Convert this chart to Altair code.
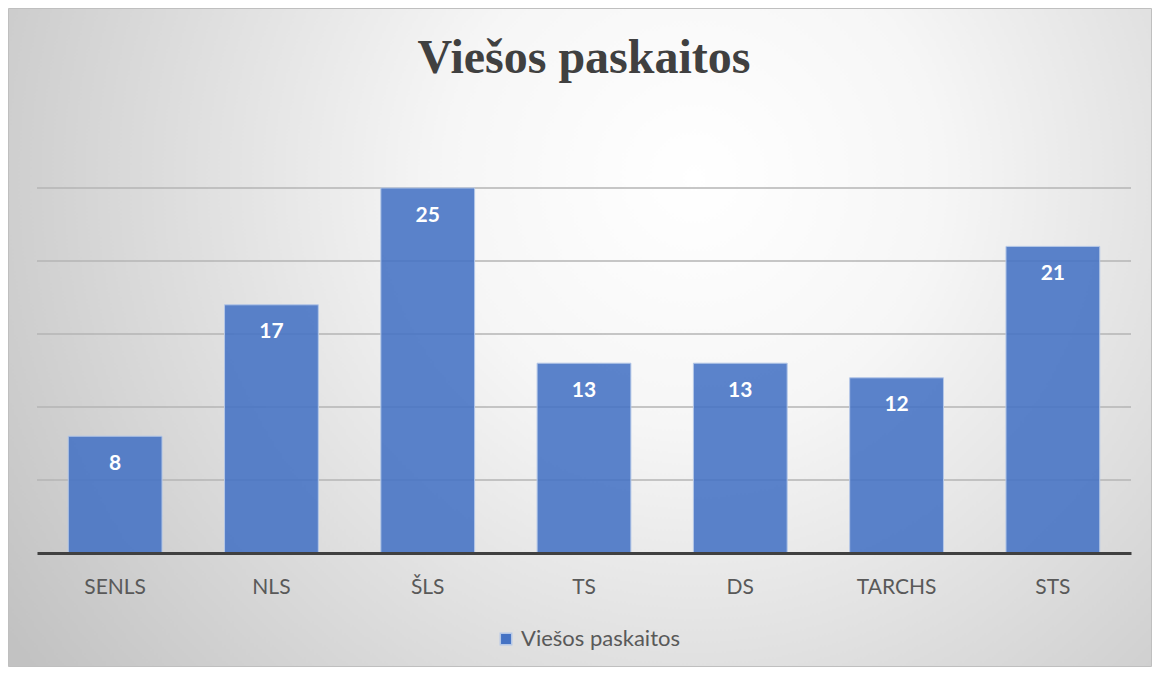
import altair as alt
import pandas as pd

categories = ["SENLS", "NLS", "ŠLS", "TS", "DS", "TARCHS", "STS"]
values = [8, 17, 25, 13, 13, 12, 21]
series_name = "Viešos paskaitos"
title_text = "Viešos paskaitos"
grid_values = [5, 10, 15, 20, 25]

df = pd.DataFrame({"cat": categories, "val": values, "series": [series_name] * len(values)})
grid_df = pd.DataFrame({"v": grid_values})
bg_df = pd.DataFrame({"t": [title_text]})

W, H = 1094, 365
PL, PT, PR, PB = 29, 180, 21, 114

gradient = alt.RadialGradient(
    gradient="radial",
    stops=[
        alt.GradientStop(color="#ffffff", offset=0),
        alt.GradientStop(color="#f6f6f6", offset=0.3),
        alt.GradientStop(color="#c2c2c2", offset=1),
    ],
    x1=0.6, y1=0.36, r1=0, x2=0.6, y2=0.36, r2=0.72,
)

background = alt.Chart(bg_df).mark_rect(
    fill=gradient, stroke="#bfbfbf", strokeWidth=1
).encode(
    x=alt.value(-PL + 0.5), x2=alt.value(W + PR - 0.5),
    y=alt.value(-PT + 0.5), y2=alt.value(H + PB - 0.5),
)

title = alt.Chart(bg_df).mark_text(
    font="Liberation Serif", fontSize=48, fontWeight="bold", color="#404040",
    align="center", baseline="alphabetic"
).encode(
    x=alt.value(W / 2), y=alt.value(-115), text="t:N"
)

yscale = alt.Scale(domain=[0, 25], nice=False)

grid = alt.Chart(grid_df).mark_rule(color="#b4b4b4", strokeWidth=1.3).encode(
    y=alt.Y("v:Q", scale=yscale, axis=None),
    x=alt.value(0), x2=alt.value(W),
)

xenc = alt.X(
    "cat:N", sort=categories, title=None,
    scale=alt.Scale(paddingInner=0.4, paddingOuter=0.2),
    axis=alt.Axis(labelAngle=0, ticks=False, domainColor="#404040", domainWidth=3,
                  labelColor="#595959", labelFont="Lato", labelFontSize=21,
                  labelPadding=23, grid=False, zindex=1),
)

bars = alt.Chart(df).mark_bar(
    fill="#4472c4", fillOpacity=0.88, stroke="#b4c7e7", strokeWidth=1
).encode(
    x=xenc,
    y=alt.Y("val:Q", scale=yscale, title=None, axis=None),
    color=alt.Color("series:N", title=None,
                    scale=alt.Scale(range=["#4472c4"]),
                    legend=alt.Legend(orient="none", legendX=458, legendY=440,
                                      symbolType="square", symbolSize=130,
                                      symbolFillColor="#5a83cb", symbolStrokeColor="#b4c7e7",
                                      symbolOpacity=1, labelFont="Lato", labelFontSize=22,
                                      labelColor="#595959", padding=0, labelOffset=4,
                                      zindex=1)),
)

labels = alt.Chart(df).mark_text(
    color="white", font="Lato", fontWeight="bold", fontSize=21, baseline="middle", dy=27.5
).encode(
    x=alt.X("cat:N", sort=categories),
    y=alt.Y("val:Q", scale=yscale),
    text="val:Q",
)

chart = alt.layer(background, title, grid, bars, labels).properties(
    width=W, height=H,
    autosize=alt.AutoSizeParams(type="none"),
    padding={"left": PL, "top": PT, "right": PR, "bottom": PB},
).configure_view(stroke=None)

chart.save("out.html", embed_options={"renderer": "svg", "actions": False})
